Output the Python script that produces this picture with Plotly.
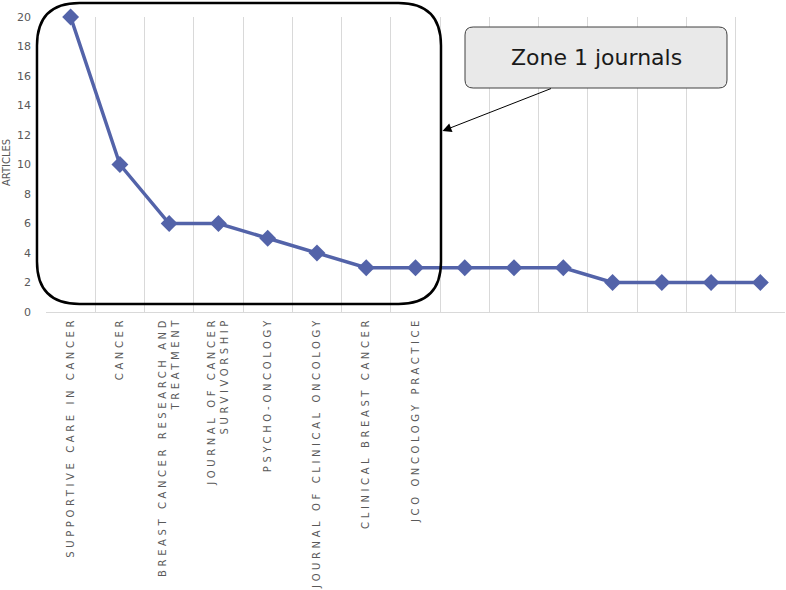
import plotly.graph_objects as go

journals = [
    "SUPPORTIVE CARE IN CANCER",
    "CANCER",
    "BREAST CANCER RESEARCH AND<br>TREATMENT",
    "JOURNAL OF CANCER<br>SURVIVORSHIP",
    "PSYCHO-ONCOLOGY",
    "JOURNAL OF CLINICAL ONCOLOGY",
    "CLINICAL BREAST CANCER",
    "JCO ONCOLOGY PRACTICE",
    "", "", "", "", "", "", "",
]
articles = [20, 10, 6, 6, 5, 4, 3, 3, 3, 3, 3, 2, 2, 2, 2]
positions = list(range(len(articles)))
y_ticks = list(range(0, 21, 2))

LINE = "#5363A9"
GREY = "#595959"
FONT = "DejaVu Sans"

fig = go.Figure()
fig.add_trace(go.Scatter(
    x=positions, y=articles, mode="lines+markers",
    line=dict(color=LINE, width=3.5),
    marker=dict(symbol="diamond", size=13, color=LINE),
    cliponaxis=False, showlegend=False,
))
# invisible trace to activate grid axis
fig.add_trace(go.Scatter(x=[positions[0]], y=[articles[0]], xaxis="x2",
                         mode="markers", marker=dict(opacity=0), showlegend=False,
                         hoverinfo="skip"))

n = len(articles)
fig.update_layout(
    width=786, height=590,
    margin=dict(l=46, r=1, t=17, b=278),
    plot_bgcolor="white", paper_bgcolor="white",
    font=dict(family=FONT, color=GREY),
    xaxis=dict(
        range=[-0.5, n - 0.5], tickmode="array", tickvals=positions, ticktext=journals,
        tickangle=-90, showgrid=False, zeroline=False, automargin=False,
        showline=True, linecolor="#d9d9d9", linewidth=1,
        tickfont=dict(size=10, color=GREY), ticks="",
    ),
    xaxis2=dict(
        overlaying="x", range=[-0.5, n - 0.5], tickmode="array",
        tickvals=[i - 0.5 for i in range(n + 1)], showticklabels=False,
        showgrid=True, gridcolor="#d9d9d9", gridwidth=1, zeroline=False,
        side="bottom", ticks="", automargin=False,
    ),
    yaxis=dict(
        range=[0, 20], tickmode="array", tickvals=y_ticks, showgrid=False,
        zeroline=False, ticks="", tickfont=dict(size=11, color=GREY),
        automargin=False, ticklabelstandoff=14,
    ),
)

fig.add_annotation(x=-0.054, y=0.505, xref="paper", yref="paper", text="ARTICLES",
                   xanchor="center", yanchor="middle",
                   textangle=-90, showarrow=False, font=dict(size=10, color=GREY))


def rounded(x0, x1, y0, y1, rx, ry):
    return (f"M {x0+rx},{y1} L {x1-rx},{y1} Q {x1},{y1} {x1},{y1-ry} "
            f"L {x1},{y0+ry} Q {x1},{y0} {x1-rx},{y0} L {x0+rx},{y0} "
            f"Q {x0},{y0} {x0},{y0+ry} L {x0},{y1-ry} Q {x0},{y1} {x0+rx},{y1} Z")


# rounded zone box
fig.add_shape(type="path", path=rounded(-0.0122, 0.5345, 0.0271, 1.0475, 0.0575, 0.144),
              xref="paper", yref="paper",
              line=dict(color="black", width=2.5), fillcolor="rgba(0,0,0,0)")

# callout box
fig.add_shape(type="path", path=rounded(0.567, 0.9215, 0.7593, 0.9661, 0.011, 0.027),
              xref="paper", yref="paper",
              line=dict(color="#404040", width=1), fillcolor="#e9e9e9")
fig.add_annotation(x=0.7443, y=0.8644, xref="paper", yref="paper",
                   xanchor="center", yanchor="middle",
                   text="Zone 1 journals", showarrow=False,
                   font=dict(size=22, color="#1a1a1a", family=FONT))
# arrow
fig.add_annotation(x=0.5365, y=0.6136, xref="paper", yref="paper", text="",
                   showarrow=True, ax=110, ay=-43, arrowhead=2, arrowsize=1.8,
                   arrowwidth=1, arrowcolor="black", standoff=0)

post = """
document.body.style.margin='0';
document.querySelectorAll('.xtick text').forEach(function(t){
  t.style.letterSpacing='3.6px';
});
"""
fig.write_html("out.html", post_script=post, config={"displayModeBar": False})
